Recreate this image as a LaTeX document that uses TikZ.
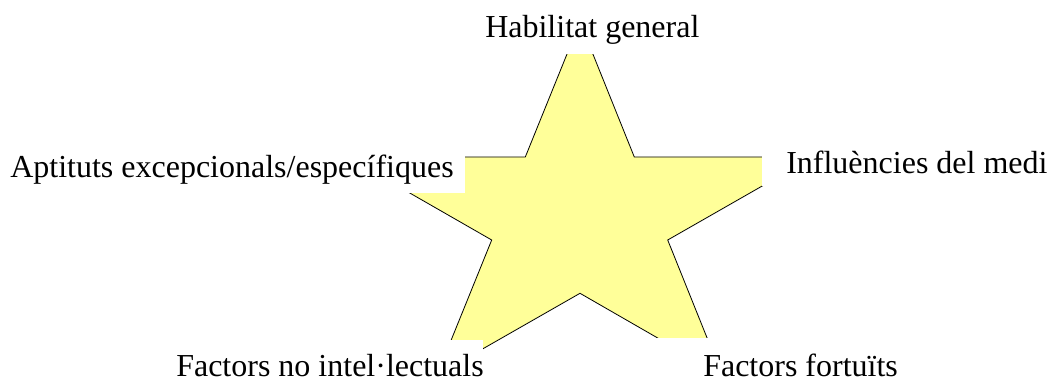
\documentclass[tikz,border=0pt]{standalone}
\usepackage{fontspec}
\setmainfont{Liberation Serif}
\definecolor{staryellow}{HTML}{FFFF99}
\begin{document}
\begin{tikzpicture}[x=0.75pt,y=-0.75pt,
  lbl/.style={font=\fontsize{24}{28}\selectfont, inner sep=0pt, anchor=base west},
  cover/.style={fill=white}]
\useasboundingbox (0,0) rectangle (1050,381);
\fill[white] (0,0) rectangle (1050,381);
\draw[fill=staryellow, line width=0.6pt, line join=miter]
  (580,22) -- (634.3,157) -- (813,157) -- (667.7,240) -- (722,375)
  -- (580,293.3) -- (437,375) -- (491.7,240) -- (347,157) -- (525.3,157) -- cycle;
% white label boxes
\fill[cover] (480,0) rectangle (705,54);
\fill[cover] (0,140) rectangle (465,193);
\fill[cover] (762,135) rectangle (1050,186);
\fill[cover] (170,340) rectangle (483,381);
\fill[cover] (656,338) rectangle (910,381);
% labels
\node[lbl] (hab) at (485,38) {Habilitat general};
\node[lbl] (apt) at (10,177.7) {Aptituts excepcionals/específiques};
\node[lbl] (inf) at (786,174) {Influències del medi};
\node[lbl] (fni) at (176,376) {Factors no intel·lectuals};
\node[lbl] (ffo) at (703,376) {Factors fortuïts};
\end{tikzpicture}
\end{document}
